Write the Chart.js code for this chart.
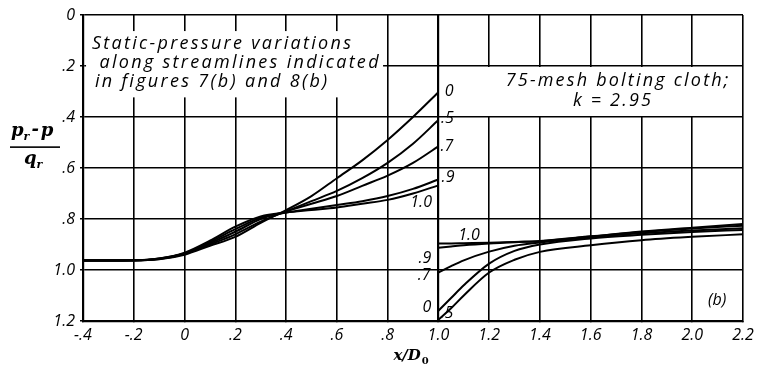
<!DOCTYPE html>
<html>
<head>
<meta charset="utf-8">
<script src="https://cdn.jsdelivr.net/npm/chart.js@4.4.0/dist/chart.umd.min.js"></script>
<style>
  body { margin: 0; background: #fff; }
  #wrap { width: 779px; height: 369px; }
</style>
</head>
<body>
<div id="wrap"><canvas id="pressureChart" width="779" height="369"></canvas></div>
<script>
// Upstream of the screen (x/D0 from -.4 to 1.0)
const xLeft = [-0.4, -0.3, -0.2, -0.1, 0, 0.1, 0.2, 0.3, 0.4, 0.5, 0.6, 0.7, 0.8, 0.9, 1.0];
const s0Left  = [0.962, 0.962, 0.962, 0.958, 0.940, 0.905, 0.870, 0.815, 0.765, 0.710, 0.640, 0.570, 0.490, 0.400, 0.303];
const s5Left  = [0.962, 0.962, 0.962, 0.957, 0.937, 0.900, 0.860, 0.810, 0.770, 0.730, 0.690, 0.640, 0.580, 0.505, 0.412];
const s7Left  = [0.962, 0.962, 0.962, 0.956, 0.935, 0.895, 0.850, 0.800, 0.770, 0.740, 0.710, 0.670, 0.630, 0.580, 0.515];
const s9Left  = [0.964, 0.964, 0.963, 0.955, 0.935, 0.890, 0.840, 0.795, 0.775, 0.760, 0.745, 0.730, 0.710, 0.682, 0.645];
const s10Left = [0.964, 0.964, 0.963, 0.955, 0.932, 0.885, 0.830, 0.790, 0.775, 0.765, 0.755, 0.740, 0.725, 0.700, 0.668];

// Downstream of the screen (x/D0 from 1.0 to 2.2)
const xRight = [1.0, 1.05, 1.1, 1.2, 1.3, 1.4, 1.6, 1.8, 2.0, 2.2];
const s10Right = [0.896, 0.896, 0.895, 0.893, 0.890, 0.886, 0.868, 0.849, 0.834, 0.820];
const s9Right  = [0.913, 0.908, 0.903, 0.896, 0.891, 0.887, 0.869, 0.851, 0.837, 0.826];
const s7Right  = [1.010, 0.985, 0.962, 0.928, 0.905, 0.892, 0.872, 0.856, 0.845, 0.836];
const s0Right  = [1.160, 1.110, 1.060, 0.975, 0.925, 0.900, 0.876, 0.862, 0.851, 0.843];
const s5Right  = [1.195, 1.150, 1.100, 1.010, 0.960, 0.929, 0.903, 0.883, 0.870, 0.860];

const xTickLabels = ['-.4', '-.2', '0', '.2', '.4', '.6', '.8', '1.0', '1.2', '1.4', '1.6', '1.8', '2.0', '2.2'];
const yTickLabels = ['0', '.2', '.4', '.6', '.8', '1.0', '1.2'];

// curve labels: [text, x, y]
const curveLabels = [
    ['0', 1.042, 0.30], ['.5', 1.036, 0.405], ['.7', 1.034, 0.516], ['.9', 1.038, 0.638], ['1.0', 0.932, 0.736],
    ['1.0', 1.121, 0.866], ['.9', 0.947, 0.953], ['.7', 0.944, 1.02], ['0', 0.955, 1.146], ['.5', 1.034, 1.169]
];

const noteLeft = ['Static-pressure variations', 'along streamlines indicated', 'in figures 7(b) and 8(b)'];
const noteRight = ['75-mesh bolting cloth;', 'k = 2.95'];

const LETTER = "'Open Sans', 'DejaVu Sans', sans-serif";

function toPoints(xs, ys) {
    return xs.map((x, i) => ({ x: x, y: ys[i] }));
}

function curve(xs, ys) {
    return {
        data: toPoints(xs, ys),
        borderColor: '#000',
        borderWidth: 2,
        pointRadius: 0,
        fill: false,
        cubicInterpolationMode: 'monotone'
    };
}

const notesPlugin = {
    id: 'notes',
    beforeDatasetsDraw(chart) {
        const { ctx, scales: { x, y } } = chart;
        ctx.save();
        ctx.fillStyle = '#fff';
        // blank box behind the left note
        const lx1 = x.getPixelForValue(-0.388), lx2 = x.getPixelForValue(0.782);
        const ly1 = y.getPixelForValue(0.063), ly2 = y.getPixelForValue(0.323);
        ctx.fillRect(lx1, ly1, lx2 - lx1, ly2 - ly1);
        // blank box behind the right note (between .2 and .4)
        const rx1 = x.getPixelForValue(1.0) + 1.5, rx2 = x.getPixelForValue(2.2) - 1.5;
        const ry1 = y.getPixelForValue(0.2) + 1, ry2 = y.getPixelForValue(0.4) - 1;
        ctx.fillRect(rx1, ry1, rx2 - rx1, ry2 - ry1);
        ctx.restore();
    },
    afterDraw(chart) {
        const { ctx, scales: { x, y } } = chart;
        ctx.save();
        ctx.fillStyle = '#000';
        ctx.textBaseline = 'middle';

        // left note
        ctx.font = 'italic 18px ' + LETTER;
        ctx.letterSpacing = '2.3px';
        ctx.textAlign = 'left';
        const starts = [-0.365, -0.335, -0.353];
        const rows = [0.114, 0.189, 0.264];
        noteLeft.forEach((t, i) => ctx.fillText(t, x.getPixelForValue(starts[i]), y.getPixelForValue(rows[i])));

        // right note
        ctx.textAlign = 'center';
        ctx.letterSpacing = '2.2px';
        ctx.fillText(noteRight[0], x.getPixelForValue(1.708), y.getPixelForValue(0.26));
        ctx.fillText(noteRight[1], x.getPixelForValue(1.688), y.getPixelForValue(0.335));

        // curve labels
        ctx.letterSpacing = '0px';
        ctx.font = 'italic 16px ' + LETTER;
        curveLabels.forEach(l => ctx.fillText(l[0], x.getPixelForValue(l[1]), y.getPixelForValue(l[2])));
        ctx.fillText('(b)', x.getPixelForValue(2.098), y.getPixelForValue(1.118));

        // x axis title: x/D0
        const serif = "'DejaVu Serif', 'Liberation Serif', serif";
        ctx.font = 'bold italic 15px ' + serif;
        ctx.textAlign = 'left';
        const tx = x.getPixelForValue(1.0) - 45, ty = chart.chartArea.bottom + 35;
        ctx.fillText('x/D', tx, ty);
        const w = ctx.measureText('x/D').width;
        ctx.font = 'bold 10px ' + serif;
        ctx.fillText('0', tx + w + 1, ty + 5);

        // y axis title: (pr - p)/qr
        ctx.font = 'bold italic 18px ' + serif;
        let px = 11, py = y.getPixelForValue(0.455);
        ctx.fillText('p', px, py);
        px += ctx.measureText('p').width;
        ctx.font = 'bold italic 11px ' + serif;
        ctx.fillText('r', px, py + 6);
        px += ctx.measureText('r').width + 2;
        ctx.font = 'bold italic 18px ' + serif;
        ctx.fillText('-', px, py - 1);
        px += ctx.measureText('-').width + 2;
        ctx.fillText('p', px, py);
        ctx.fillRect(10, y.getPixelForValue(0.515), 50, 1.6);
        const qy = y.getPixelForValue(0.565);
        ctx.fillText('q', 24, qy);
        const qw = ctx.measureText('q').width;
        ctx.font = 'bold italic 11px ' + serif;
        ctx.fillText('r', 24 + qw, qy + 6);
        ctx.restore();
    }
};

const ctx = document.getElementById('pressureChart').getContext('2d');
const pressureChart = new Chart(ctx, {
    type: 'line',
    data: {
        datasets: [
            curve(xLeft, s0Left),
            curve(xLeft, s5Left),
            curve(xLeft, s7Left),
            curve(xLeft, s9Left),
            curve(xLeft, s10Left),
            curve(xRight, s10Right),
            curve(xRight, s9Right),
            curve(xRight, s7Right),
            curve(xRight, s0Right),
            curve(xRight, s5Right)
        ]
    },
    options: {
        responsive: false,
        animation: false,
        layout: { padding: { left: 0, top: 15, right: 36, bottom: 0 } },
        plugins: {
            legend: { display: false },
            tooltip: { enabled: false }
        },
        scales: {
            x: {
                type: 'linear',
                min: -0.4,
                max: 2.2,
                afterFit: s => { s.height = 48; },
                afterBuildTicks: s => {
                    s.ticks = xTickLabels.map((t, i) => ({ value: -0.4 + i * 0.2 }));
                },
                ticks: {
                    color: '#000',
                    padding: 5,
                    font: { family: LETTER, size: 16, style: 'italic' },
                    callback: (v, i) => xTickLabels[i]
                },
                grid: {
                    color: '#000',
                    lineWidth: c => (c.tick && Math.abs(c.tick.value - 1.0) < 1e-6) ? 2.2 : 1.6,
                    tickLength: 0
                },
                border: { color: '#000', width: 2.2 }
            },
            y: {
                type: 'linear',
                reverse: true,
                min: 0,
                max: 1.2,
                afterFit: s => { s.width = 83; },
                afterBuildTicks: s => {
                    s.ticks = yTickLabels.map((t, i) => ({ value: i * 0.2 }));
                },
                ticks: {
                    color: '#000',
                    padding: 5,
                    font: { family: LETTER, size: 16, style: 'italic' },
                    callback: (v, i) => yTickLabels[i]
                },
                grid: { color: '#000', lineWidth: 1.6, tickLength: 3 },
                border: { color: '#000', width: 2.2 }
            }
        }
    },
    plugins: [notesPlugin]
});
</script>
</body>
</html>
